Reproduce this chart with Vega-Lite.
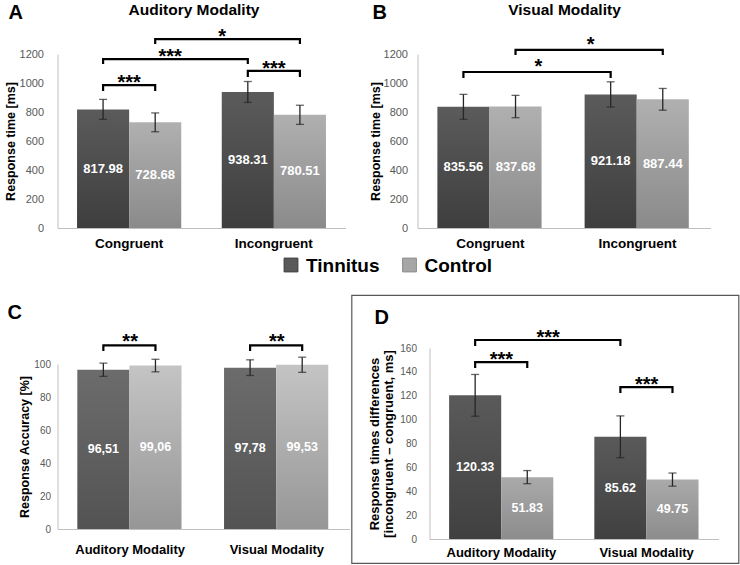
{
  "$schema": "https://vega.github.io/schema/vega-lite/v6.json",
  "padding": {"left": 3.5, "top": 2, "right": 0, "bottom": 0},
  "background": "#ffffff",
  "spacing": 6,
  "config": {
    "font": "Liberation Sans",
    "view": {"stroke": null},
    "axis": {"grid": false, "ticks": false, "domainColor": "#bfbfbf", "domainWidth": 1, "labelFont": "Liberation Sans", "titleFont": "Liberation Sans", "labelColor": "#595959", "titleColor": "#000000", "labelOverlap": false},
    "text": {"font": "Liberation Sans"},
    "title": {"font": "Liberation Sans", "color": "#000000"},
    "scale": {"bandPaddingInner": 0.28, "bandPaddingOuter": 0.135, "bandWithNestedOffsetPaddingInner": 0.28, "bandWithNestedOffsetPaddingOuter": 0.135, "offsetBandPaddingInner": 0, "offsetBandPaddingOuter": 0}
  },
  "vconcat": [
    {
      "spacing": 23,
      "hconcat": [
        {
          "width": 288, "height": 174,
          "title": {"text": "A", "anchor": "start", "frame": "group", "dx": -49, "offset": -37, "baseline": "alphabetic", "fontSize": 20, "fontWeight": "bold"},
          "data": {"values": [
            {"cat": "Congruent", "grp": "Tinnitus", "v": 817.98, "e": 69},
            {"cat": "Congruent", "grp": "Control", "v": 728.68, "e": 65},
            {"cat": "Incongruent", "grp": "Tinnitus", "v": 938.31, "e": 72},
            {"cat": "Incongruent", "grp": "Control", "v": 780.51, "e": 66}
          ]},
          "resolve": {"axis": {"x": "independent", "y": "independent"}},
          "layer": [
            {
              "transform": [{"filter": "datum.grp === 'Tinnitus'"}],
              "mark": {"type": "bar", "fill": {"gradient": "linear", "x1": 0, "y1": 0, "x2": 0, "y2": 1, "stops": [{"offset": 0, "color": "#5b5b5b"}, {"offset": 1, "color": "#3e3e3e"}]}},
              "encoding": {
                "x": {"field": "cat", "type": "nominal", "scale": {"domain": ["Congruent", "Incongruent"]}, "axis": {"title": null, "labelAngle": 0, "labelFontSize": 13.5, "labelFontWeight": "bold", "labelColor": "#000000", "labelPadding": 8}},
                "xOffset": {"field": "grp", "type": "nominal", "scale": {"domain": ["Tinnitus", "Control"]}},
                "y": {"field": "v", "type": "quantitative", "scale": {"domain": [0, 1200], "nice": false}, "axis": {"values": [0, 200, 400, 600, 800, 1000, 1200], "format": "d", "labelFontSize": 11, "labelPadding": 14, "title": "Response time [ms]", "titleFontSize": 12.5, "titleFontWeight": "bold", "titlePadding": 2}}
              }
            },
            {
              "transform": [{"filter": "datum.grp === 'Control'"}],
              "mark": {"type": "bar", "fill": {"gradient": "linear", "x1": 0, "y1": 0, "x2": 0, "y2": 1, "stops": [{"offset": 0, "color": "#b0b0b0"}, {"offset": 1, "color": "#8a8a8a"}]}},
              "encoding": {
                "x": {"field": "cat", "type": "nominal", "scale": {"domain": ["Congruent", "Incongruent"]}, "axis": null},
                "xOffset": {"field": "grp", "type": "nominal", "scale": {"domain": ["Tinnitus", "Control"]}},
                "y": {"field": "v", "type": "quantitative", "scale": {"domain": [0, 1200], "nice": false}, "axis": null}
              }
            },
            {
              "mark": {"type": "errorbar", "ticks": {"size": 8, "thickness": 1.3, "color": "#262626"}, "rule": {"strokeWidth": 1.3, "color": "#262626"}},
              "encoding": {
                "x": {"field": "cat", "type": "nominal", "scale": {"domain": ["Congruent", "Incongruent"]}, "axis": null},
                "xOffset": {"field": "grp", "type": "nominal", "scale": {"domain": ["Tinnitus", "Control"]}},
                "y": {"field": "v", "type": "quantitative", "scale": {"domain": [0, 1200], "nice": false}, "axis": null},
                "yError": {"field": "e"}
              }
            },
            {
              "mark": {"type": "text", "color": "#ffffff", "fontSize": 13, "fontWeight": "bold", "baseline": "middle"},
              "encoding": {
                "x": {"field": "cat", "type": "nominal", "scale": {"domain": ["Congruent", "Incongruent"]}, "axis": null},
                "xOffset": {"field": "grp", "type": "nominal", "scale": {"domain": ["Tinnitus", "Control"]}},
                "y": {"field": "v", "type": "quantitative", "stack": "zero", "bandPosition": 0.5, "scale": {"domain": [0, 1200], "nice": false}, "axis": null},
                "text": {"field": "v", "format": ".2f"}
              }
            },
            {
              "data": {"values": [
                {"b": "p1", "o": 1, "cat": "Congruent", "grp": "Tinnitus", "v": 945},
                {"b": "p1", "o": 2, "cat": "Congruent", "grp": "Tinnitus", "v": 985},
                {"b": "p1", "o": 3, "cat": "Congruent", "grp": "Control", "v": 985},
                {"b": "p1", "o": 4, "cat": "Congruent", "grp": "Control", "v": 945},
                {"b": "x1", "o": 1, "cat": "Congruent", "grp": "Tinnitus", "v": 1131},
                {"b": "x1", "o": 2, "cat": "Congruent", "grp": "Tinnitus", "v": 1165},
                {"b": "x1", "o": 3, "cat": "Incongruent", "grp": "Tinnitus", "v": 1165},
                {"b": "x1", "o": 4, "cat": "Incongruent", "grp": "Tinnitus", "v": 1131},
                {"b": "x2", "o": 1, "cat": "Congruent", "grp": "Control", "v": 1269},
                {"b": "x2", "o": 2, "cat": "Congruent", "grp": "Control", "v": 1303},
                {"b": "x2", "o": 3, "cat": "Incongruent", "grp": "Control", "v": 1303},
                {"b": "x2", "o": 4, "cat": "Incongruent", "grp": "Control", "v": 1269},
                {"b": "p2", "o": 1, "cat": "Incongruent", "grp": "Tinnitus", "v": 1041},
                {"b": "p2", "o": 2, "cat": "Incongruent", "grp": "Tinnitus", "v": 1083},
                {"b": "p2", "o": 3, "cat": "Incongruent", "grp": "Control", "v": 1083},
                {"b": "p2", "o": 4, "cat": "Incongruent", "grp": "Control", "v": 1041}
              ]},
              "mark": {"type": "line", "color": "#000000", "strokeWidth": 2.2, "strokeJoin": "miter"},
              "encoding": {
                "x": {"field": "cat", "type": "nominal", "scale": {"domain": ["Congruent", "Incongruent"]}, "axis": null},
                "xOffset": {"field": "grp", "type": "nominal", "scale": {"domain": ["Tinnitus", "Control"]}},
                "y": {"field": "v", "type": "quantitative", "scale": {"domain": [0, 1200], "nice": false}, "axis": null},
                "detail": {"field": "b"},
                "order": {"field": "o"}
              }
            },
            {
              "data": {"values": [
                {"cat": "Congruent", "v": 985, "t": "***"},
                {"cat": "Incongruent", "v": 1083, "t": "***"}
              ]},
              "mark": {"type": "text", "fontSize": 20, "fontWeight": "bold", "dy": 4, "baseline": "alphabetic", "color": "#000000"},
              "encoding": {
                "x": {"field": "cat", "type": "nominal", "scale": {"domain": ["Congruent", "Incongruent"]}, "axis": {"orient": "top", "title": "Auditory Modality", "labels": false, "ticks": false, "domain": false, "titlePadding": 37, "titleFontSize": 15.5, "titleFontWeight": "bold", "titleColor": "#000000", "titleX": 136}},
                "y": {"field": "v", "type": "quantitative", "scale": {"domain": [0, 1200], "nice": false}, "axis": null},
                "text": {"field": "t"}
              }
            },
            {
              "data": {"values": [
                {"cat": "Congruent", "grp": "Tinnitus", "v": 1165, "t": "***"},
                {"cat": "Congruent", "grp": "Control", "v": 1303, "t": "*"}
              ]},
              "mark": {"type": "text", "fontSize": 20, "fontWeight": "bold", "dy": 4, "dx": 67, "baseline": "alphabetic", "color": "#000000"},
              "encoding": {
                "x": {"field": "cat", "type": "nominal", "scale": {"domain": ["Congruent", "Incongruent"]}, "axis": null},
                "xOffset": {"field": "grp", "type": "nominal", "scale": {"domain": ["Tinnitus", "Control"]}},
                "y": {"field": "v", "type": "quantitative", "scale": {"domain": [0, 1200], "nice": false}, "axis": null},
                "text": {"field": "t"}
              }
            }
          ]
        },
        {
          "width": 293, "height": 174,
          "title": {"text": "B", "anchor": "start", "frame": "group", "dx": -45, "offset": -37, "baseline": "alphabetic", "fontSize": 20, "fontWeight": "bold"},
          "data": {"values": [
            {"cat": "Congruent", "grp": "Tinnitus", "v": 835.56, "e": 86},
            {"cat": "Congruent", "grp": "Control", "v": 837.68, "e": 77},
            {"cat": "Incongruent", "grp": "Tinnitus", "v": 921.18, "e": 87},
            {"cat": "Incongruent", "grp": "Control", "v": 887.44, "e": 75}
          ]},
          "resolve": {"axis": {"x": "independent", "y": "independent"}},
          "layer": [
            {
              "transform": [{"filter": "datum.grp === 'Tinnitus'"}],
              "mark": {"type": "bar", "fill": {"gradient": "linear", "x1": 0, "y1": 0, "x2": 0, "y2": 1, "stops": [{"offset": 0, "color": "#5b5b5b"}, {"offset": 1, "color": "#3e3e3e"}]}},
              "encoding": {
                "x": {"field": "cat", "type": "nominal", "scale": {"domain": ["Congruent", "Incongruent"]}, "axis": {"title": null, "labelAngle": 0, "labelFontSize": 13.5, "labelFontWeight": "bold", "labelColor": "#000000", "labelPadding": 8}},
                "xOffset": {"field": "grp", "type": "nominal", "scale": {"domain": ["Tinnitus", "Control"]}},
                "y": {"field": "v", "type": "quantitative", "scale": {"domain": [0, 1200], "nice": false}, "axis": {"values": [0, 200, 400, 600, 800, 1000, 1200], "format": "d", "labelFontSize": 11, "labelPadding": 10, "title": "Response time [ms]", "titleFontSize": 12.5, "titleFontWeight": "bold", "titlePadding": 1}}
              }
            },
            {
              "transform": [{"filter": "datum.grp === 'Control'"}],
              "mark": {"type": "bar", "fill": {"gradient": "linear", "x1": 0, "y1": 0, "x2": 0, "y2": 1, "stops": [{"offset": 0, "color": "#b0b0b0"}, {"offset": 1, "color": "#8a8a8a"}]}},
              "encoding": {
                "x": {"field": "cat", "type": "nominal", "scale": {"domain": ["Congruent", "Incongruent"]}, "axis": null},
                "xOffset": {"field": "grp", "type": "nominal", "scale": {"domain": ["Tinnitus", "Control"]}},
                "y": {"field": "v", "type": "quantitative", "scale": {"domain": [0, 1200], "nice": false}, "axis": null}
              }
            },
            {
              "mark": {"type": "errorbar", "ticks": {"size": 8, "thickness": 1.3, "color": "#262626"}, "rule": {"strokeWidth": 1.3, "color": "#262626"}},
              "encoding": {
                "x": {"field": "cat", "type": "nominal", "scale": {"domain": ["Congruent", "Incongruent"]}, "axis": null},
                "xOffset": {"field": "grp", "type": "nominal", "scale": {"domain": ["Tinnitus", "Control"]}},
                "y": {"field": "v", "type": "quantitative", "scale": {"domain": [0, 1200], "nice": false}, "axis": null},
                "yError": {"field": "e"}
              }
            },
            {
              "mark": {"type": "text", "color": "#ffffff", "fontSize": 13, "fontWeight": "bold", "baseline": "middle"},
              "encoding": {
                "x": {"field": "cat", "type": "nominal", "scale": {"domain": ["Congruent", "Incongruent"]}, "axis": null},
                "xOffset": {"field": "grp", "type": "nominal", "scale": {"domain": ["Tinnitus", "Control"]}},
                "y": {"field": "v", "type": "quantitative", "stack": "zero", "bandPosition": 0.5, "scale": {"domain": [0, 1200], "nice": false}, "axis": null},
                "text": {"field": "v", "format": ".2f"}
              }
            },
            {
              "data": {"values": [
                {"b": "x1", "o": 1, "cat": "Congruent", "grp": "Tinnitus", "v": 1034},
                {"b": "x1", "o": 2, "cat": "Congruent", "grp": "Tinnitus", "v": 1076},
                {"b": "x1", "o": 3, "cat": "Incongruent", "grp": "Tinnitus", "v": 1076},
                {"b": "x1", "o": 4, "cat": "Incongruent", "grp": "Tinnitus", "v": 1034},
                {"b": "x2", "o": 1, "cat": "Congruent", "grp": "Control", "v": 1193},
                {"b": "x2", "o": 2, "cat": "Congruent", "grp": "Control", "v": 1228},
                {"b": "x2", "o": 3, "cat": "Incongruent", "grp": "Control", "v": 1228},
                {"b": "x2", "o": 4, "cat": "Incongruent", "grp": "Control", "v": 1193}
              ]},
              "mark": {"type": "line", "color": "#000000", "strokeWidth": 2.2, "strokeJoin": "miter"},
              "encoding": {
                "x": {"field": "cat", "type": "nominal", "scale": {"domain": ["Congruent", "Incongruent"]}, "axis": null},
                "xOffset": {"field": "grp", "type": "nominal", "scale": {"domain": ["Tinnitus", "Control"]}},
                "y": {"field": "v", "type": "quantitative", "scale": {"domain": [0, 1200], "nice": false}, "axis": null},
                "detail": {"field": "b"},
                "order": {"field": "o"}
              }
            },
            {
              "data": {"values": [
                {"cat": "Congruent", "grp": "Tinnitus", "v": 1076, "t": "*"},
                {"cat": "Congruent", "grp": "Control", "v": 1228, "t": "*"}
              ]},
              "mark": {"type": "text", "fontSize": 20, "fontWeight": "bold", "dy": 1, "dx": 75, "baseline": "alphabetic", "color": "#000000"},
              "encoding": {
                "x": {"field": "cat", "type": "nominal", "scale": {"domain": ["Congruent", "Incongruent"]}, "axis": {"orient": "top", "title": "Visual Modality", "labels": false, "ticks": false, "domain": false, "titlePadding": 37, "titleFontSize": 15.5, "titleFontWeight": "bold", "titleColor": "#000000"}},
                "xOffset": {"field": "grp", "type": "nominal", "scale": {"domain": ["Tinnitus", "Control"]}},
                "y": {"field": "v", "type": "quantitative", "scale": {"domain": [0, 1200], "nice": false}, "axis": null},
                "text": {"field": "t"}
              }
            }
          ]
        }
      ]
    },
    {
      "width": 420, "height": 23,
      "data": {"values": [{"grp": "Tinnitus"}, {"grp": "Control"}]},
      "layer": [
        {
          "mark": {"type": "point", "shape": "square", "size": 190, "filled": true, "strokeWidth": 1, "opacity": 1},
          "encoding": {
            "x": {"field": "grp", "type": "nominal", "scale": {"type": "point", "domain": ["Tinnitus", "Control"], "range": [233.5, 352], "padding": 0}, "axis": null},
            "y": {"datum": 1, "type": "quantitative", "scale": {"domain": [0, 1]}, "axis": null},
            "fill": {"field": "grp", "type": "nominal", "scale": {"domain": ["Tinnitus", "Control"], "range": ["#595959", "#a6a6a6"]}, "legend": null},
            "stroke": {"field": "grp", "type": "nominal", "scale": {"domain": ["Tinnitus", "Control"], "range": ["#3a3a3a", "#8a8a8a"]}, "legend": null}
          }
        },
        {
          "mark": {"type": "text", "align": "left", "dx": 15, "dy": 1, "fontSize": 19, "fontWeight": "bold", "baseline": "middle", "color": "#000000"},
          "encoding": {
            "x": {"field": "grp", "type": "nominal", "scale": {"type": "point", "domain": ["Tinnitus", "Control"], "range": [233.5, 352], "padding": 0}, "axis": null},
            "y": {"datum": 1, "type": "quantitative", "scale": {"domain": [0, 1]}, "axis": null},
            "text": {"field": "grp"}
          }
        }
      ]
    },
    {
      "spacing": 1,
      "hconcat": [
        {
          "width": 292, "height": 234,
          "title": {"text": "C", "anchor": "start", "frame": "group", "dx": -50, "offset": -44, "baseline": "alphabetic", "fontSize": 20, "fontWeight": "bold"},
          "data": {"values": [
            {"cat": "Auditory Modality", "grp": "Tinnitus", "v": 96.51, "e": 4.0, "lab": "96,51"},
            {"cat": "Auditory Modality", "grp": "Control", "v": 99.06, "e": 3.8, "lab": "99,06"},
            {"cat": "Visual Modality", "grp": "Tinnitus", "v": 97.78, "e": 4.75, "lab": "97,78"},
            {"cat": "Visual Modality", "grp": "Control", "v": 99.53, "e": 4.6, "lab": "99,53"}
          ]},
          "resolve": {"axis": {"x": "independent", "y": "independent"}},
          "layer": [
            {
              "transform": [{"filter": "datum.grp === 'Tinnitus'"}],
              "mark": {"type": "bar", "fill": {"gradient": "linear", "x1": 0, "y1": 0, "x2": 0, "y2": 1, "stops": [{"offset": 0, "color": "#6c6c6c"}, {"offset": 1, "color": "#535353"}]}},
              "encoding": {
                "x": {"field": "cat", "type": "nominal", "scale": {"domain": ["Auditory Modality", "Visual Modality"]}, "axis": {"title": null, "labelAngle": 0, "labelFontSize": 13, "labelFontWeight": "bold", "labelColor": "#000000", "labelPadding": 14}},
                "xOffset": {"field": "grp", "type": "nominal", "scale": {"domain": ["Tinnitus", "Control"]}},
                "y": {"field": "v", "type": "quantitative", "scale": {"domain": [0, 100], "nice": false, "range": [234, 69]}, "axis": {"values": [0, 20, 40, 60, 80, 100], "format": "d", "labelFontSize": 10, "labelPadding": 7, "title": "Response Accuracy [%]", "titleFontSize": 12.5, "titleFontWeight": "bold", "titlePadding": 2}}
              }
            },
            {
              "transform": [{"filter": "datum.grp === 'Control'"}],
              "mark": {"type": "bar", "fill": {"gradient": "linear", "x1": 0, "y1": 0, "x2": 0, "y2": 1, "stops": [{"offset": 0, "color": "#c4c4c4"}, {"offset": 1, "color": "#969696"}]}},
              "encoding": {
                "x": {"field": "cat", "type": "nominal", "scale": {"domain": ["Auditory Modality", "Visual Modality"]}, "axis": null},
                "xOffset": {"field": "grp", "type": "nominal", "scale": {"domain": ["Tinnitus", "Control"]}},
                "y": {"field": "v", "type": "quantitative", "scale": {"domain": [0, 100], "nice": false, "range": [234, 69]}, "axis": null}
              }
            },
            {
              "mark": {"type": "errorbar", "ticks": {"size": 8, "thickness": 1.3, "color": "#262626"}, "rule": {"strokeWidth": 1.3, "color": "#262626"}},
              "encoding": {
                "x": {"field": "cat", "type": "nominal", "scale": {"domain": ["Auditory Modality", "Visual Modality"]}, "axis": null},
                "xOffset": {"field": "grp", "type": "nominal", "scale": {"domain": ["Tinnitus", "Control"]}},
                "y": {"field": "v", "type": "quantitative", "scale": {"domain": [0, 100], "nice": false, "range": [234, 69]}, "axis": null},
                "yError": {"field": "e"}
              }
            },
            {
              "mark": {"type": "text", "color": "#ffffff", "fontSize": 12.5, "fontWeight": "bold", "baseline": "middle"},
              "encoding": {
                "x": {"field": "cat", "type": "nominal", "scale": {"domain": ["Auditory Modality", "Visual Modality"]}, "axis": null},
                "xOffset": {"field": "grp", "type": "nominal", "scale": {"domain": ["Tinnitus", "Control"]}},
                "y": {"field": "v", "type": "quantitative", "stack": "zero", "bandPosition": 0.5, "scale": {"domain": [0, 100], "nice": false, "range": [234, 69]}, "axis": null},
                "text": {"field": "lab"}
              }
            },
            {
              "data": {"values": [
                {"b": "p1", "o": 1, "cat": "Auditory Modality", "grp": "Tinnitus", "v": 107.9},
                {"b": "p1", "o": 2, "cat": "Auditory Modality", "grp": "Tinnitus", "v": 111.3},
                {"b": "p1", "o": 3, "cat": "Auditory Modality", "grp": "Control", "v": 111.3},
                {"b": "p1", "o": 4, "cat": "Auditory Modality", "grp": "Control", "v": 107.9},
                {"b": "p2", "o": 1, "cat": "Visual Modality", "grp": "Tinnitus", "v": 107.9},
                {"b": "p2", "o": 2, "cat": "Visual Modality", "grp": "Tinnitus", "v": 111.3},
                {"b": "p2", "o": 3, "cat": "Visual Modality", "grp": "Control", "v": 111.3},
                {"b": "p2", "o": 4, "cat": "Visual Modality", "grp": "Control", "v": 107.9}
              ]},
              "mark": {"type": "line", "color": "#000000", "strokeWidth": 2.2, "strokeJoin": "miter"},
              "encoding": {
                "x": {"field": "cat", "type": "nominal", "scale": {"domain": ["Auditory Modality", "Visual Modality"]}, "axis": null},
                "xOffset": {"field": "grp", "type": "nominal", "scale": {"domain": ["Tinnitus", "Control"]}},
                "y": {"field": "v", "type": "quantitative", "scale": {"domain": [0, 100], "nice": false, "range": [234, 69]}, "axis": null},
                "detail": {"field": "b"},
                "order": {"field": "o"}
              }
            },
            {
              "data": {"values": [
                {"cat": "Auditory Modality", "v": 111.3, "t": "**"},
                {"cat": "Visual Modality", "v": 111.3, "t": "**"}
              ]},
              "mark": {"type": "text", "fontSize": 20, "fontWeight": "bold", "dy": 3, "baseline": "alphabetic", "color": "#000000"},
              "encoding": {
                "x": {"field": "cat", "type": "nominal", "scale": {"domain": ["Auditory Modality", "Visual Modality"]}, "axis": null},
                "y": {"field": "v", "type": "quantitative", "scale": {"domain": [0, 100], "nice": false, "range": [234, 69]}, "axis": null},
                "text": {"field": "t"}
              }
            }
          ]
        },
        {
          "width": 387, "height": 268,
          "view": {"stroke": "#595959", "strokeWidth": 1.2},
          "title": {"text": "D", "anchor": "start", "frame": "group", "dx": 23, "offset": -49, "baseline": "alphabetic", "fontSize": 20, "fontWeight": "bold"},
          "data": {"values": [
            {"cat": "Auditory Modality", "grp": "Tinnitus", "v": 120.33, "e": 17.5},
            {"cat": "Auditory Modality", "grp": "Control", "v": 51.83, "e": 5.5},
            {"cat": "Visual Modality", "grp": "Tinnitus", "v": 85.62, "e": 17.5},
            {"cat": "Visual Modality", "grp": "Control", "v": 49.75, "e": 5.5}
          ]},
          "resolve": {"axis": {"x": "independent", "y": "independent"}},
          "layer": [
            {
              "transform": [{"filter": "datum.grp === 'Tinnitus'"}],
              "mark": {"type": "bar", "fill": {"gradient": "linear", "x1": 0, "y1": 0, "x2": 0, "y2": 1, "stops": [{"offset": 0, "color": "#5a5a5a"}, {"offset": 1, "color": "#404040"}]}},
              "encoding": {
                "x": {"field": "cat", "type": "nominal", "scale": {"domain": ["Auditory Modality", "Visual Modality"], "range": [78, 367]}, "axis": {"title": null, "labelAngle": 0, "labelFontSize": 13, "labelFontWeight": "bold", "labelColor": "#000000", "labelPadding": 7, "offset": -24}},
                "xOffset": {"field": "grp", "type": "nominal", "scale": {"domain": ["Tinnitus", "Control"]}},
                "y": {"field": "v", "type": "quantitative", "scale": {"domain": [0, 160], "nice": false, "range": [244, 53]}, "axis": {"values": [0, 20, 40, 60, 80, 100, 120, 140, 160], "format": "d", "labelFontSize": 10, "labelPadding": 13, "offset": -78, "title": ["Response times differences", "[incongruent – congruent, ms]"], "titleFontSize": 13, "titleFontWeight": "bold", "titlePadding": 4, "titleLineHeight": 14.5}}
              }
            },
            {
              "transform": [{"filter": "datum.grp === 'Control'"}],
              "mark": {"type": "bar", "fill": {"gradient": "linear", "x1": 0, "y1": 0, "x2": 0, "y2": 1, "stops": [{"offset": 0, "color": "#aaaaaa"}, {"offset": 1, "color": "#8c8c8c"}]}},
              "encoding": {
                "x": {"field": "cat", "type": "nominal", "scale": {"domain": ["Auditory Modality", "Visual Modality"], "range": [78, 367]}, "axis": null},
                "xOffset": {"field": "grp", "type": "nominal", "scale": {"domain": ["Tinnitus", "Control"]}},
                "y": {"field": "v", "type": "quantitative", "scale": {"domain": [0, 160], "nice": false, "range": [244, 53]}, "axis": null}
              }
            },
            {
              "mark": {"type": "errorbar", "ticks": {"size": 8, "thickness": 1.3, "color": "#262626"}, "rule": {"strokeWidth": 1.3, "color": "#262626"}},
              "encoding": {
                "x": {"field": "cat", "type": "nominal", "scale": {"domain": ["Auditory Modality", "Visual Modality"], "range": [78, 367]}, "axis": null},
                "xOffset": {"field": "grp", "type": "nominal", "scale": {"domain": ["Tinnitus", "Control"]}},
                "y": {"field": "v", "type": "quantitative", "scale": {"domain": [0, 160], "nice": false, "range": [244, 53]}, "axis": null},
                "yError": {"field": "e"}
              }
            },
            {
              "mark": {"type": "text", "color": "#ffffff", "fontSize": 12.5, "fontWeight": "bold", "baseline": "middle"},
              "encoding": {
                "x": {"field": "cat", "type": "nominal", "scale": {"domain": ["Auditory Modality", "Visual Modality"], "range": [78, 367]}, "axis": null},
                "xOffset": {"field": "grp", "type": "nominal", "scale": {"domain": ["Tinnitus", "Control"]}},
                "y": {"field": "v", "type": "quantitative", "stack": "zero", "bandPosition": 0.5, "scale": {"domain": [0, 160], "nice": false, "range": [244, 53]}, "axis": null},
                "text": {"field": "v", "format": ".2f"}
              }
            },
            {
              "data": {"values": [
                {"b": "p1", "o": 1, "cat": "Auditory Modality", "grp": "Tinnitus", "v": 143.2},
                {"b": "p1", "o": 2, "cat": "Auditory Modality", "grp": "Tinnitus", "v": 148.2},
                {"b": "p1", "o": 3, "cat": "Auditory Modality", "grp": "Control", "v": 148.2},
                {"b": "p1", "o": 4, "cat": "Auditory Modality", "grp": "Control", "v": 143.2},
                {"b": "x1", "o": 1, "cat": "Auditory Modality", "grp": "Tinnitus", "v": 161.6},
                {"b": "x1", "o": 2, "cat": "Auditory Modality", "grp": "Tinnitus", "v": 166.7},
                {"b": "x1", "o": 3, "cat": "Visual Modality", "grp": "Tinnitus", "v": 166.7},
                {"b": "x1", "o": 4, "cat": "Visual Modality", "grp": "Tinnitus", "v": 161.6},
                {"b": "p2", "o": 1, "cat": "Visual Modality", "grp": "Tinnitus", "v": 122.3},
                {"b": "p2", "o": 2, "cat": "Visual Modality", "grp": "Tinnitus", "v": 127.3},
                {"b": "p2", "o": 3, "cat": "Visual Modality", "grp": "Control", "v": 127.3},
                {"b": "p2", "o": 4, "cat": "Visual Modality", "grp": "Control", "v": 122.3}
              ]},
              "mark": {"type": "line", "color": "#000000", "strokeWidth": 2.2, "strokeJoin": "miter"},
              "encoding": {
                "x": {"field": "cat", "type": "nominal", "scale": {"domain": ["Auditory Modality", "Visual Modality"], "range": [78, 367]}, "axis": null},
                "xOffset": {"field": "grp", "type": "nominal", "scale": {"domain": ["Tinnitus", "Control"]}},
                "y": {"field": "v", "type": "quantitative", "scale": {"domain": [0, 160], "nice": false, "range": [244, 53]}, "axis": null},
                "detail": {"field": "b"},
                "order": {"field": "o"}
              }
            },
            {
              "data": {"values": [
                {"cat": "Auditory Modality", "v": 148.2, "t": "***"},
                {"cat": "Visual Modality", "v": 127.3, "t": "***"}
              ]},
              "mark": {"type": "text", "fontSize": 20, "fontWeight": "bold", "dy": 4, "baseline": "alphabetic", "color": "#000000"},
              "encoding": {
                "x": {"field": "cat", "type": "nominal", "scale": {"domain": ["Auditory Modality", "Visual Modality"], "range": [78, 367]}, "axis": null},
                "y": {"field": "v", "type": "quantitative", "scale": {"domain": [0, 160], "nice": false, "range": [244, 53]}, "axis": null},
                "text": {"field": "t"}
              }
            },
            {
              "data": {"values": [
                {"cat": "Auditory Modality", "grp": "Tinnitus", "v": 166.7, "t": "***"}
              ]},
              "mark": {"type": "text", "fontSize": 20, "fontWeight": "bold", "dy": 4, "dx": 73, "baseline": "alphabetic", "color": "#000000"},
              "encoding": {
                "x": {"field": "cat", "type": "nominal", "scale": {"domain": ["Auditory Modality", "Visual Modality"], "range": [78, 367]}, "axis": null},
                "xOffset": {"field": "grp", "type": "nominal", "scale": {"domain": ["Tinnitus", "Control"]}},
                "y": {"field": "v", "type": "quantitative", "scale": {"domain": [0, 160], "nice": false, "range": [244, 53]}, "axis": null},
                "text": {"field": "t"}
              }
            }
          ]
        }
      ]
    }
  ]
}
